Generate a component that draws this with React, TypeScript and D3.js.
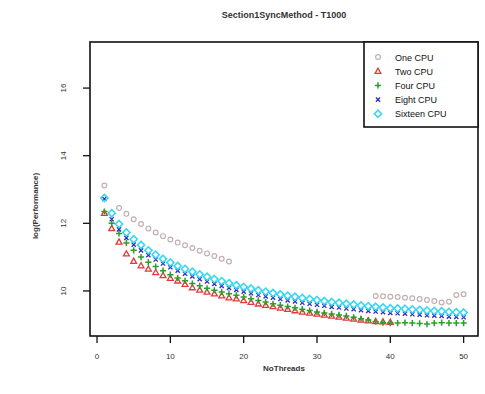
import React from "react";
import * as d3 from "d3";

const threads = [1,2,3,4,5,6,7,8,9,10,11,12,13,14,15,16,17,18,19,20,21,22,23,24,25,26,27,28,29,30,31,32,33,34,35,36,37,38,39,40,41,42,43,44,45,46,47,48,49,50];

const oneX = [1,3,4,5,6,7,8,9,10,11,12,13,14,15,16,17,18,38,39,40,41,42,43,44,45,46,47,48,49,50];
const oneY = [13.12,12.45,12.28,12.12,11.98,11.85,11.73,11.62,11.52,11.43,11.35,11.27,11.19,11.11,11.03,10.95,10.87,9.85,9.84,9.83,9.82,9.8,9.78,9.76,9.73,9.7,9.66,9.68,9.88,9.9];

const twoY = [12.3,11.85,11.45,11.1,10.88,10.75,10.65,10.55,10.46,10.38,10.3,10.2,10.1,10.03,9.97,9.92,9.86,9.8,9.77,9.72,9.67,9.62,9.58,9.54,9.5,9.46,9.42,9.38,9.35,9.32,9.29,9.26,9.23,9.2,9.17,9.14,9.12,9.1,9.09,9.08];

const fourY = [12.35,12.0,11.7,11.42,11.2,11.0,10.85,10.72,10.6,10.48,10.38,10.3,10.22,10.15,10.08,10.02,9.97,9.92,9.87,9.82,9.77,9.72,9.67,9.62,9.58,9.54,9.5,9.46,9.42,9.38,9.35,9.32,9.29,9.26,9.22,9.18,9.14,9.09,9.06,9.05,9.05,9.06,9.05,9.04,9.02,9.05,9.06,9.05,9.05,9.05];

const eightY = [12.72,12.12,11.82,11.57,11.37,11.2,11.06,10.93,10.81,10.7,10.6,10.51,10.43,10.35,10.28,10.21,10.15,10.09,10.03,9.98,9.93,9.88,9.84,9.8,9.76,9.72,9.69,9.65,9.62,9.59,9.56,9.53,9.51,9.48,9.46,9.43,9.41,9.39,9.37,9.35,9.34,9.33,9.31,9.3,9.28,9.27,9.26,9.24,9.23,9.22];

const sixteenY = [12.75,12.3,11.98,11.73,11.53,11.36,11.2,11.07,10.95,10.84,10.74,10.65,10.57,10.49,10.42,10.35,10.29,10.23,10.17,10.12,10.07,10.02,9.98,9.94,9.9,9.86,9.83,9.79,9.76,9.73,9.7,9.67,9.65,9.62,9.6,9.57,9.55,9.53,9.51,9.49,9.48,9.47,9.45,9.44,9.42,9.41,9.4,9.38,9.37,9.36];

const legendLabels = ["One CPU", "Two CPU", "Four CPU", "Eight CPU", "Sixteen CPU"];
const colors = ["#c4b0b0", "#e23a3a", "#2a9e2a", "#2a2ac8", "#3ad8f0"];
const xTicks = [0, 10, 20, 30, 40, 50];
const yTicks = [10, 12, 14, 16];

const FONT = "'Liberation Sans', Arial, Helvetica, sans-serif";

function Symbol({ kind, cx, cy, color }: { kind: number; cx: number; cy: number; color: string }) {
  const s = 2.6;
  const sw = 1.2;
  if (kind === 0) return <circle cx={cx} cy={cy} r={2.4} fill="none" stroke={color} strokeWidth={sw} />;
  if (kind === 1)
    return (
      <path d={`M${cx},${cy - s - 0.4}L${cx + s + 0.3},${cy + s - 0.4}L${cx - s - 0.3},${cy + s - 0.4}Z`} fill="none" stroke={color} strokeWidth={1.3} />
    );
  if (kind === 2)
    return <path d={`M${cx - s - 0.5},${cy}H${cx + s + 0.5}M${cx},${cy - s - 0.5}V${cy + s + 0.5}`} stroke={color} strokeWidth={1.5} />;
  if (kind === 3)
    return <path d={`M${cx - s + 0.5},${cy - s + 0.5}L${cx + s - 0.5},${cy + s - 0.5}M${cx - s + 0.5},${cy + s - 0.5}L${cx + s - 0.5},${cy - s + 0.5}`} stroke={color} strokeWidth={1.3} />;
  return (
    <path d={`M${cx},${cy - s - 1}L${cx + s + 1},${cy}L${cx},${cy + s + 1}L${cx - s - 1},${cy}Z`} fill="none" stroke={color} strokeWidth={1.6} />
  );
}

export default function App() {
  const W = 485, H = 394;
  const L = 90, R = 478, T = 42, B = 336;
  const x = d3.scaleLinear().domain([-0.96, 51.96]).range([L, R]);
  const y = d3.scaleLinear().domain([8.667, 17.363]).range([B, T]);

  const series: { xs: number[]; ys: number[] }[] = [
    { xs: oneX, ys: oneY },
    { xs: threads.slice(0, twoY.length), ys: twoY },
    { xs: threads, ys: fourY },
    { xs: threads, ys: eightY },
    { xs: threads, ys: sixteenY },
  ];

  const legX = 364, legY = T, legW = R - 364, legH = 85;

  return (
    <svg width={W} height={H} style={{ position: "absolute", left: 0, top: 0, background: "#fff" }} fontFamily={FONT}>
      <rect width={W} height={H} fill="#fff" />
      <text x={(L + R) / 2} y={18} textAnchor="middle" fontSize={9} fontWeight="bold" fill="#333">
        Section1SyncMethod - T1000
      </text>

      {series.map((s, i) => (
        <g key={i}>
          {s.xs.map((xv, j) => (
            <Symbol key={j} kind={i} cx={x(xv)} cy={y(s.ys[j])} color={colors[i]} />
          ))}
        </g>
      ))}

      <rect x={L} y={T} width={R - L} height={B - T} fill="none" stroke="#111" strokeWidth={1.6} />

      {xTicks.map((t) => (
        <g key={t}>
          <line x1={x(t)} x2={x(t)} y1={B} y2={B + 7} stroke="#111" strokeWidth={1.3} />
          <text x={x(t)} y={B + 23} textAnchor="middle" fontSize={8} fill="#333">{t}</text>
        </g>
      ))}
      {yTicks.map((t) => (
        <g key={t}>
          <line x1={L} x2={L - 7} y1={y(t)} y2={y(t)} stroke="#111" strokeWidth={1.3} />
          <text transform={`translate(${L - 24},${y(t)}) rotate(-90)`} textAnchor="middle" fontSize={8} fill="#333">{t}</text>
        </g>
      ))}

      <text x={(L + R) / 2} y={371} textAnchor="middle" fontSize={8} fontWeight="bold" fill="#333">NoThreads</text>
      <text transform={`translate(38,${(T + B) / 2 + 17}) rotate(-90)`} textAnchor="middle" fontSize={8} fontWeight="bold" fill="#333">
        log(Performance)
      </text>

      <rect x={legX} y={legY} width={legW} height={legH} fill="#fff" stroke="#111" strokeWidth={1.6} />
      {legendLabels.map((lab, i) => (
        <g key={lab}>
          <Symbol kind={i} cx={legX + 14} cy={legY + 15 + i * 14.2} color={colors[i]} />
          <text x={legX + 31} y={legY + 18.5 + i * 14.2} fontSize={9} fill="#111">{lab}</text>
        </g>
      ))}
    </svg>
  );
}
